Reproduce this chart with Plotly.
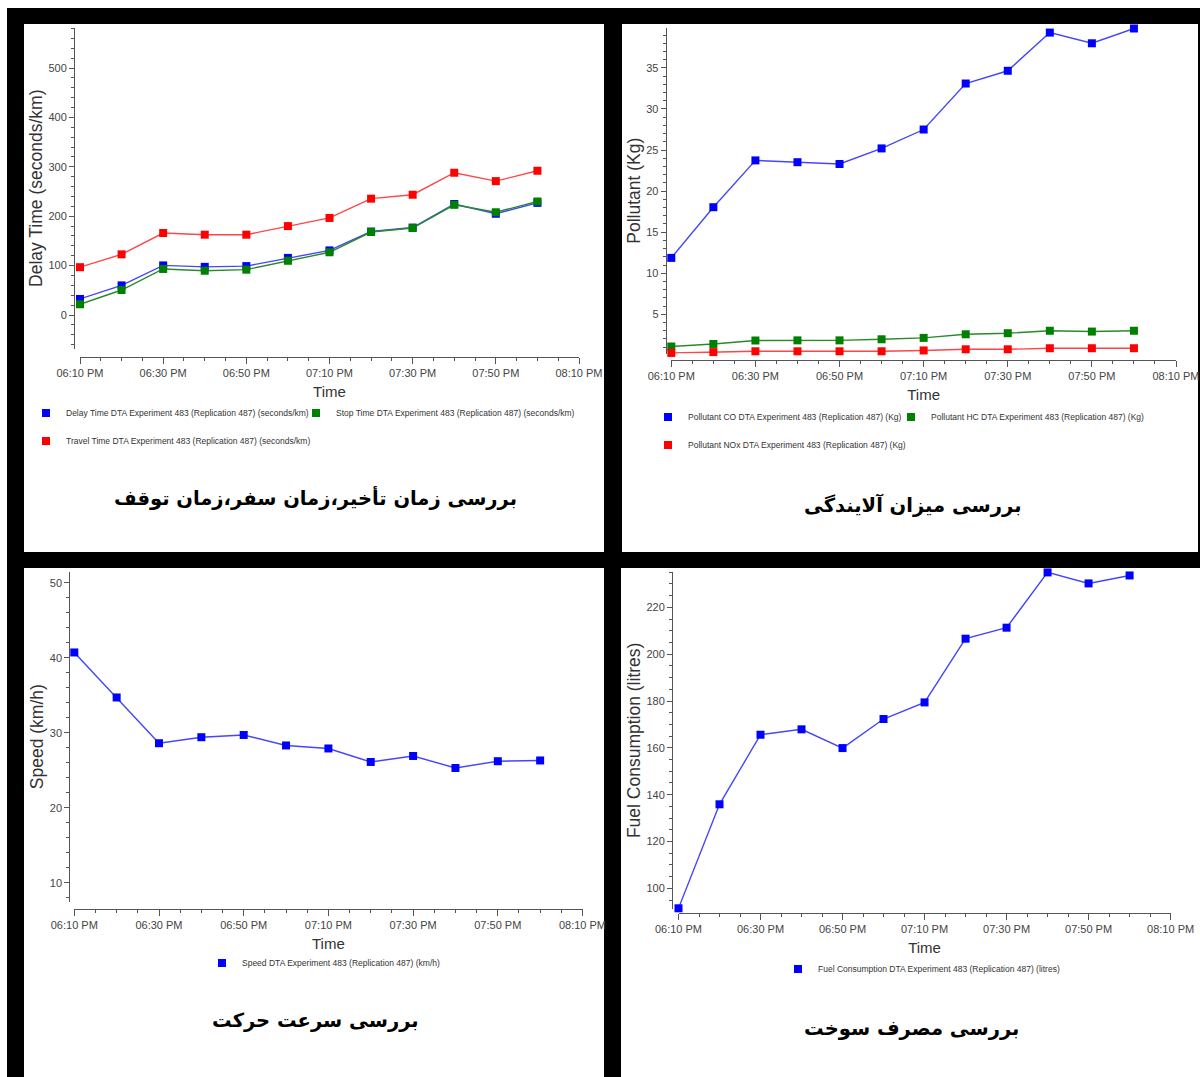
import plotly.graph_objects as go

# ---- data -------------------------------------------------------------
times = [
    "2024-01-01 18:10", "2024-01-01 18:20", "2024-01-01 18:30",
    "2024-01-01 18:40", "2024-01-01 18:50", "2024-01-01 19:00",
    "2024-01-01 19:10", "2024-01-01 19:20", "2024-01-01 19:30",
    "2024-01-01 19:40", "2024-01-01 19:50", "2024-01-01 20:00",
]

delay_time = [32.5, 60, 100.4, 97.5, 99, 115.6, 130.8, 169, 177, 224.7, 205, 227]
stop_time = [21.7, 50.6, 93.2, 89.6, 91.8, 109.8, 127, 168, 176, 223, 208, 229.8]
travel_time = [96.8, 122.8, 166, 162.6, 162.6, 180, 196.5, 235.5, 243.5, 288, 271, 292]

pollutant_co = [11.87, 18.04, 23.74, 23.52, 23.3, 25.2, 27.5, 33.1, 34.65, 39.3, 38.0, 39.8]
pollutant_hc = [1.08, 1.39, 1.81, 1.83, 1.83, 1.96, 2.13, 2.57, 2.7, 3.0, 2.9, 3.0]
pollutant_nox = [0.3, 0.4, 0.5, 0.5, 0.5, 0.5, 0.6, 0.74, 0.74, 0.87, 0.87, 0.87]

speed = [40.7, 34.7, 28.6, 29.4, 29.7, 28.3, 27.9, 26.1, 26.9, 25.3, 26.2, 26.3]

fuel = [91.5, 135.9, 165.6, 167.9, 159.9, 172.3, 179.4, 206.6, 211.3, 234.9, 230.2, 233.6]

x_start, x_end = "2024-01-01 18:10", "2024-01-01 20:10"

titles_fa = [
    "بررسی زمان تأخیر،زمان سفر،زمان توقف",
    "بررسی میزان آلایندگی",
    "بررسی سرعت حرکت",
    "بررسی مصرف سوخت",
]

# ---- page geometry (pixels) -------------------------------------------
W, H = 1200, 1077


def fx(p):
    return p / W


def fy(p):
    return 1 - p / H


BLUE, GREEN, RED = "#0000ff", "#008000", "#ff0000"
LINE = {BLUE: "#4545ff", GREEN: "#2a8a2a", RED: "#ff4545"}

TICK_FONT = dict(family="Liberation Sans, Arial, sans-serif", size=11, color="#444444")
LEG_FONT = dict(family="Liberation Sans, Arial, sans-serif", size=8.5, color="#333333")
TITLE_FONT = dict(family="Liberation Sans, Arial, sans-serif", size=17.5, color="#333333")
XTITLE_FONT = dict(family="Liberation Sans, Arial, sans-serif", size=15, color="#333333")

# panel layout: x domain, x-axis line y, y domain, y-axis line x, y range, ticks
panels = [
    dict(xd=(80, 579), xl=356.5, yd=(28, 348.5), yl=74, yr=(-67.8, 581),
         dt=100, mdt=20, ytitle="Delay Time (seconds/km)"),
    dict(xd=(671.3, 1176), xl=359.5, yd=(28, 353.5), yl=665.7, yr=(0.23, 39.86),
         dt=5, mdt=1, ytitle="Pollutant (Kg)"),
    dict(xd=(74.3, 582.5), xl=909, yd=(571.7, 901.7), yl=69.3, yr=(7.47, 51.47),
         dt=10, mdt=2, ytitle="Speed (km/h)"),
    dict(xd=(678.5, 1170.6), xl=913, yd=(571.7, 909), yl=672, yr=(91.2, 235.2),
         dt=20, mdt=5, ytitle="Fuel Consumption (litres)"),
]

# series: panel, values, colour, key text, key position (text start x, row y)
series = [
    (1, delay_time, BLUE, "Delay Time DTA Experiment 483 (Replication 487) (seconds/km)", (66, 413)),
    (1, stop_time, GREEN, "Stop Time DTA Experiment 483 (Replication 487) (seconds/km)", (336, 413)),
    (1, travel_time, RED, "Travel Time DTA Experiment 483 (Replication 487) (seconds/km)", (66, 441)),
    (2, pollutant_co, BLUE, "Pollutant CO DTA Experiment 483 (Replication 487) (Kg)", (688, 417)),
    (2, pollutant_hc, GREEN, "Pollutant HC DTA Experiment 483 (Replication 487) (Kg)", (931, 417)),
    (2, pollutant_nox, RED, "Pollutant NOx DTA Experiment 483 (Replication 487) (Kg)", (688, 445)),
    (3, speed, BLUE, "Speed DTA Experiment 483 (Replication 487) (km/h)", (242, 963)),
    (4, fuel, BLUE, "Fuel Consumption DTA Experiment 483 (Replication 487) (litres)", (818, 969)),
]

fig = go.Figure()
layout = dict(
    width=W, height=H, margin=dict(l=0, r=0, t=0, b=0, autoexpand=False),
    paper_bgcolor="white", plot_bgcolor="rgba(0,0,0,0)",
    showlegend=True, hovermode=False,
)

for n, (k, vals, col, name, (tx, ty)) in enumerate(series, start=1):
    ax = "" if k == 1 else str(k)
    leg = "legend" if n == 1 else "legend%d" % n
    fig.add_trace(go.Scatter(
        x=times, y=vals, xaxis="x" + ax, yaxis="y" + ax,
        mode="lines+markers", name=name, showlegend=False, cliponaxis=False,
        line=dict(color=LINE[col], width=1.4),
        marker=dict(symbol="square", size=8, color=col, line=dict(width=0)),
    ))
    # chart key entry: a plain colour square followed by the series name
    fig.add_trace(go.Scatter(
        x=[None], y=[None], xaxis="x" + ax, yaxis="y" + ax,
        mode="markers", name=name, legend=leg, showlegend=True,
        marker=dict(symbol="square", size=8, color=col),
    ))
    layout[leg] = dict(
        x=fx(tx - 40), y=fy(ty), xanchor="left", yanchor="middle",
        orientation="h", font=LEG_FONT, bgcolor="rgba(0,0,0,0)", borderwidth=0,
        itemclick=False, itemdoubleclick=False,
    )

for i, p in enumerate(panels, start=1):
    sfx = "" if i == 1 else str(i)
    layout["xaxis" + sfx] = dict(
        type="date", domain=[fx(p["xd"][0]), fx(p["xd"][1])],
        range=[x_start, x_end], anchor="free", position=fy(p["xl"]), automargin=False,
        showline=True, linecolor="#555555", linewidth=1, showgrid=False, zeroline=False,
        ticks="outside", ticklen=6, tickcolor="#555555", tickwidth=1,
        tick0=x_start, dtick=20 * 60 * 1000, tickformat="%I:%M %p",
        tickfont=TICK_FONT,
        minor=dict(ticks="outside", ticklen=3, tickcolor="#555555", dtick=5 * 60 * 1000,
                   tick0=x_start, showgrid=False),
        title=dict(text="Time", font=XTITLE_FONT, standoff=8),
    )
    layout["yaxis" + sfx] = dict(
        domain=[fy(p["yd"][1]), fy(p["yd"][0])], range=list(p["yr"]),
        anchor="free", position=fx(p["yl"]), automargin=False,
        showline=True, linecolor="#555555", linewidth=1, showgrid=False, zeroline=False,
        ticks="outside", ticklen=5, tickcolor="#555555", tickwidth=1,
        tick0=0, dtick=p["dt"], tickfont=TICK_FONT,
        minor=dict(ticks="outside", ticklen=3, tickcolor="#555555", dtick=p["mdt"], tick0=0,
                   showgrid=False),
        title=dict(text=p["ytitle"], font=TITLE_FONT, standoff=0),
    )

fig.update_layout(**layout)

# background: black frame with four white panels
shapes = [
    dict(type="rect", xref="paper", yref="paper", x0=fx(7), x1=fx(1200), y0=fy(1077), y1=fy(8),
         fillcolor="black", line=dict(width=0), layer="below"),
]
for (x0, x1, y0, y1) in [(24, 604, 24, 552), (622, 1198, 24, 552),
                         (24, 604, 568, 1077), (621, 1200, 568, 1077)]:
    shapes.append(dict(type="rect", xref="paper", yref="paper",
                       x0=fx(x0), x1=fx(x1), y0=fy(y1), y1=fy(y0),
                       fillcolor="white", line=dict(width=0), layer="below"))
fig.update_layout(shapes=shapes)

# Persian captions under each chart
for txt, (cx, cy) in zip(titles_fa, [(315, 498), (912, 505), (315, 1020), (911, 1028)]):
    fig.add_annotation(
        text="<b>" + txt + "</b>", x=fx(cx), y=fy(cy), xref="paper", yref="paper",
        xanchor="center", yanchor="middle", showarrow=False,
        font=dict(family="DejaVu Sans, sans-serif", size=19.5, color="black"),
    )

fig.write_html("out.html")
